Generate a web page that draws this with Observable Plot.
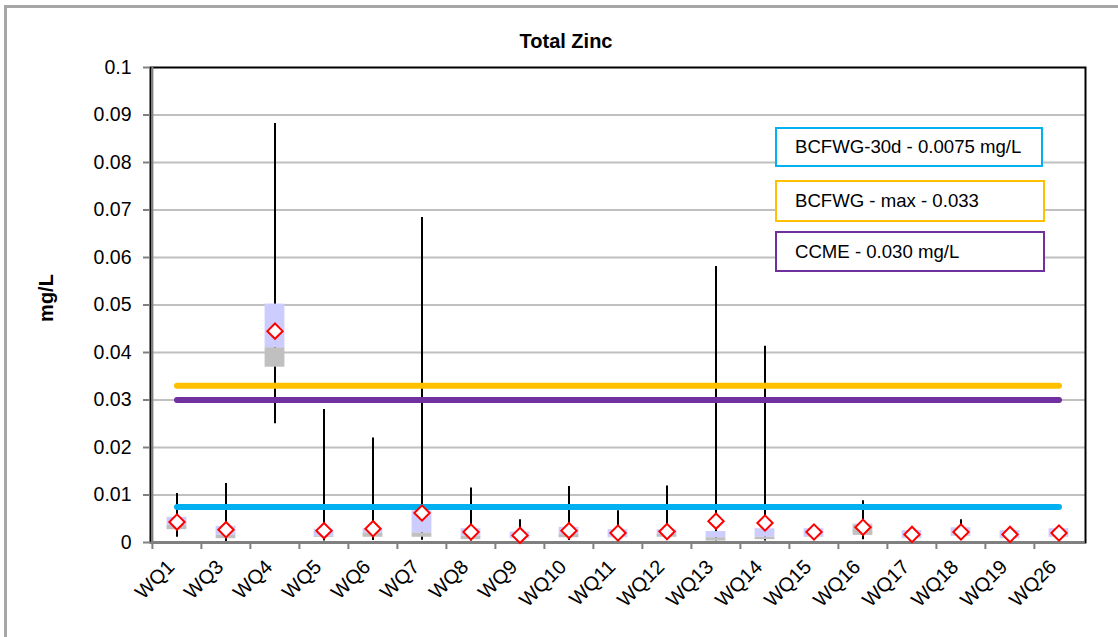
<!DOCTYPE html>
<html><head><meta charset="utf-8">
<script src="https://cdn.jsdelivr.net/npm/d3@7"></script>
<script src="https://cdn.jsdelivr.net/npm/@observablehq/plot@0.6"></script>
<style>
html,body{margin:0;padding:0;background:#fff;overflow:hidden;width:1118px;height:637px}
#wrap{position:relative;width:1118px;height:637px;font-family:"Liberation Sans",Arial,sans-serif;overflow:hidden}
#frame{position:absolute;left:4px;top:5px;width:1200px;height:700px;border:3px solid #a6a6a6;box-sizing:border-box}
#chart{position:absolute;left:0;top:0}
#title{position:absolute;left:416px;width:300px;top:30px;text-align:center;font-weight:bold;font-size:20px;line-height:23px;color:#000}
#ylab{position:absolute;left:46px;top:298px;transform:translate(-50%,-50%) rotate(-90deg);font-weight:bold;font-size:20px;white-space:nowrap;color:#000}
.leg{position:absolute;left:775px;box-sizing:border-box;border:2px solid;display:flex;align-items:center;padding-left:18px;font-size:18.6px;color:#000;background:#fff;white-space:nowrap}
</style></head>
<body>
<div id="wrap">
  <div id="frame"></div>
  <div id="chart"></div>
  <div id="title">Total Zinc</div>
  <div id="ylab">mg/L</div>
  <div id="legend"></div>
</div>
<script>
// ---- data ----
const sites = ["WQ1","WQ3","WQ4","WQ5","WQ6","WQ7","WQ8","WQ9","WQ10","WQ11","WQ12","WQ13","WQ14","WQ15","WQ16","WQ17","WQ18","WQ19","WQ26"];
const mins   = [0.0011,0.0002,0.0250,0.0003,0.0004,0.0005,0.0003,0.0001,0.0004,0.0005,0.0005,0.0003,0.0003,0.0011,0.0006,0.0008,0.0012,0.0008,0.0011];
const q1s    = [0.0027,0.0008,0.0369,0.0011,0.0011,0.0011,0.0006,0.0008,0.0010,0.0010,0.0011,0.0003,0.0006,0.0011,0.0015,0.0008,0.0013,0.0008,0.0011];
const medians= [0.0036,0.0015,0.0410,0.0013,0.0020,0.0020,0.0013,0.0009,0.0017,0.0011,0.0017,0.0010,0.0011,0.0012,0.0037,0.0009,0.0014,0.0009,0.0012];
const q3s    = [0.0053,0.0034,0.0502,0.0028,0.0029,0.0067,0.0029,0.0022,0.0032,0.0027,0.0027,0.0023,0.0029,0.0029,0.0039,0.0025,0.0031,0.0025,0.0029];
const maxs   = [0.0103,0.0124,0.0882,0.0280,0.0220,0.0684,0.0115,0.0048,0.0118,0.0067,0.0119,0.0581,0.0413,0.0029,0.0088,0.0025,0.0048,0.0025,0.0029];
const means  = [0.0043,0.0027,0.0445,0.0025,0.0029,0.0062,0.0022,0.0015,0.0025,0.0020,0.0023,0.0045,0.0041,0.0022,0.0032,0.0017,0.0022,0.0017,0.0020];
const yTicks = [0,0.01,0.02,0.03,0.04,0.05,0.06,0.07,0.08,0.09,0.1];
const limitValues = [0.0075, 0.033, 0.030];
const limitColors = ["#00b0f0", "#ffc000", "#7030a0"];
const limitLabels = ["BCFWG-30d - 0.0075 mg/L", "BCFWG - max - 0.033", "CCME - 0.030 mg/L"];

// ---- layout ----
const W = 1118, H = 637, ML = 150, MR = 33, MT = 67, MB = 95;
const step = (W - ML - MR) / sites.length;
const boxInset = (step - 20) / 2;

const data = sites.map((s, i) => ({site: s, min: mins[i], q1: q1s[i], median: medians[i], q3: q3s[i], max: maxs[i], mean: means[i]}));

const limitMarks = limitValues.map((v, k) =>
  Plot.lineY(sites, {x: d => d, y: () => v, stroke: limitColors[k], strokeWidth: 6, strokeLinecap: "round"})
);

const chart = Plot.plot({
  width: W, height: H,
  marginLeft: ML, marginRight: MR, marginTop: MT, marginBottom: MB,
  style: {fontFamily: "Liberation Sans, Arial, sans-serif", fontSize: "19px", background: "transparent", overflow: "visible", color: "#000"},
  x: {type: "band", domain: sites, padding: 0},
  y: {domain: [0, 0.1]},
  marks: [
    Plot.ruleY(yTicks.slice(1, -1), {stroke: "#c0c0c0", strokeWidth: 2}),
    Plot.frame({stroke: "#000", strokeWidth: 2}),
    Plot.ruleY([0], {stroke: "#808080", strokeWidth: 2}),
    Plot.ruleX([sites[0]], {dx: -step / 2, stroke: "#808080", strokeWidth: 2}),
    Plot.axisY({ticks: yTicks, tickFormat: d => String(d), tickSize: 7, tickPadding: 12, stroke: "#808080", strokeWidth: 2, fill: "#000", label: null, fontSize: 19.5}),
    Plot.axisX({tickSize: 7, tickFormat: () => "", dx: -step / 2, stroke: "#808080", strokeWidth: 2, label: null}),
    Plot.axisX({tickSize: 0, tickRotate: -45, tickPadding: 20, dx: -6, dy: 1, fill: "#000", label: null, fontSize: 20}),
    Plot.ruleX(data, {x: "site", y1: "min", y2: "max", stroke: "#000", strokeWidth: 2}),
    Plot.rectY(data, {x: "site", y1: "median", y2: "q3", fill: "#ccccff", insetLeft: boxInset, insetRight: boxInset}),
    Plot.rectY(data, {x: "site", y1: "q1", y2: "median", fill: "#c0c0c0", insetLeft: boxInset, insetRight: boxInset}),
    ...limitMarks,
    Plot.dot(data, {x: "site", y: "mean", symbol: "diamond2", r: 6.9, stroke: "#ff0000", strokeWidth: 2, fill: "#fff"})
  ]
});
document.getElementById("chart").appendChild(chart);

// legend boxes
const legTops = [127, 180, 231], legHeights = [40, 42, 41], legWidths = [268, 270, 270];
const legend = document.getElementById("legend");
limitLabels.forEach((t, k) => {
  const d = document.createElement("div");
  d.className = "leg";
  d.style.top = legTops[k] + "px";
  d.style.height = legHeights[k] + "px";
  d.style.width = legWidths[k] + "px";
  d.style.borderColor = limitColors[k];
  d.textContent = t;
  legend.appendChild(d);
});
</script>
</body></html>
